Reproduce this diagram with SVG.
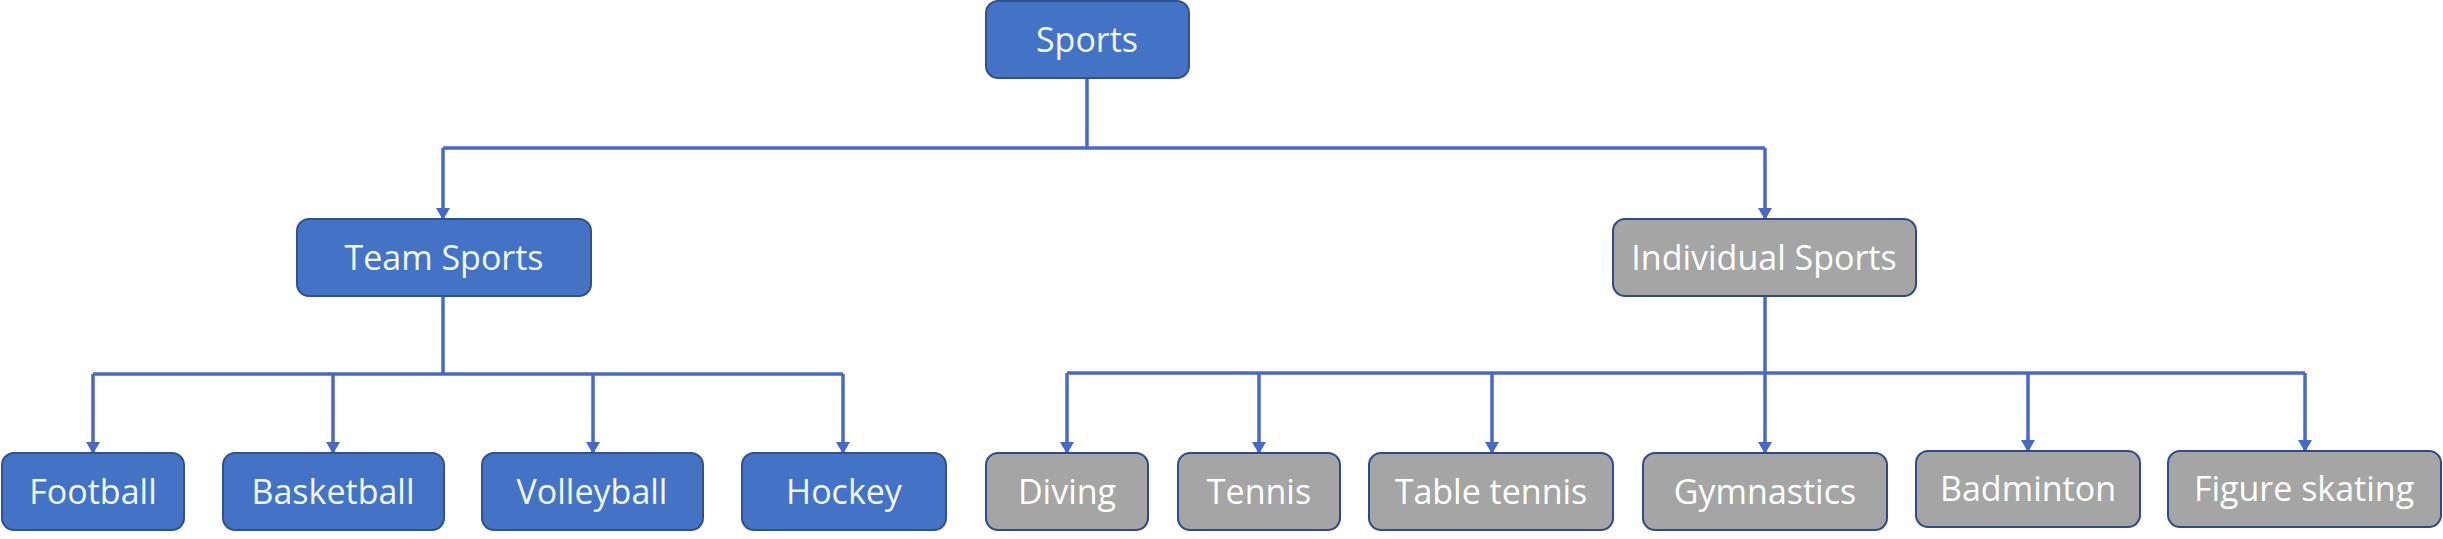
<svg xmlns="http://www.w3.org/2000/svg" width="2443" height="539" viewBox="0 0 2443 539">
<style>
.blue rect{fill:#4472c4;stroke:#2f528f;stroke-width:2}
.gray rect{fill:#a5a5a5;stroke:#2f4a8a;stroke-width:2}
text{font-family:"Open Sans","Liberation Sans",sans-serif;font-size:34px;text-anchor:middle}
.blue text{fill:#f0f8ff}
.gray text{fill:#ffffff}
.conn path{fill:none;stroke:#4868c8;stroke-width:3.5}
</style>
<defs>
<marker id="arr" markerUnits="userSpaceOnUse" markerWidth="14" markerHeight="12" refX="7" refY="11" orient="0" viewBox="0 0 14 12">
<path d="M0,0 L14,0 L7,12 Z" fill="#4868c8"/>
</marker>
</defs>
<g class="conn" id="connectors">
<path d="M1087,78 V148"/>
<path d="M443,148 H1765"/>
<path d="M443,148 V219" marker-end="url(#arr)"/>
<path d="M1765,148 V219" marker-end="url(#arr)"/>
<path d="M443,296 V374"/>
<path d="M93,374 H843"/>
<path d="M93,374 V453" marker-end="url(#arr)"/>
<path d="M333,374 V453" marker-end="url(#arr)"/>
<path d="M593,374 V453" marker-end="url(#arr)"/>
<path d="M843,374 V453" marker-end="url(#arr)"/>
<path d="M1765,296 V373"/>
<path d="M1067,373 H2305"/>
<path d="M1067,373 V453" marker-end="url(#arr)"/>
<path d="M1259,373 V453" marker-end="url(#arr)"/>
<path d="M1492,373 V453" marker-end="url(#arr)"/>
<path d="M1765,373 V453" marker-end="url(#arr)"/>
<path d="M2028,373 V451" marker-end="url(#arr)"/>
<path d="M2305,373 V451" marker-end="url(#arr)"/>
</g>
<g id="sports" class="blue"><rect x="986" y="1" width="203" height="77" rx="12"/><text x="1087" y="52">Sports</text></g>
<g id="team-sports" class="blue"><rect x="297" y="219" width="294" height="77" rx="12"/><text x="444" y="270">Team Sports</text></g>
<g id="individual-sports" class="gray"><rect x="1613" y="219" width="303" height="77" rx="12"/><text x="1764" y="270">Individual Sports</text></g>
<g id="football" class="blue"><rect x="2" y="453" width="182" height="77" rx="12"/><text x="93" y="504">Football</text></g>
<g id="basketball" class="blue"><rect x="223" y="453" width="221" height="77" rx="12"/><text x="333" y="504">Basketball</text></g>
<g id="volleyball" class="blue"><rect x="482" y="453" width="221" height="77" rx="12"/><text x="592" y="504">Volleyball</text></g>
<g id="hockey" class="blue"><rect x="742" y="453" width="204" height="77" rx="12"/><text x="844" y="504">Hockey</text></g>
<g id="diving" class="gray"><rect x="986" y="453" width="162" height="77" rx="12"/><text x="1067" y="504">Diving</text></g>
<g id="tennis" class="gray"><rect x="1178" y="453" width="162" height="77" rx="12"/><text x="1259" y="504">Tennis</text></g>
<g id="table-tennis" class="gray"><rect x="1369" y="453" width="244" height="77" rx="12"/><text x="1491" y="504">Table tennis</text></g>
<g id="gymnastics" class="gray"><rect x="1643" y="453" width="244" height="77" rx="12"/><text x="1765" y="504">Gymnastics</text></g>
<g id="badminton" class="gray"><rect x="1916" y="451" width="224" height="76" rx="12"/><text x="2028" y="501">Badminton</text></g>
<g id="figure-skating" class="gray"><rect x="2168" y="451" width="273" height="76" rx="12"/><text x="2304" y="501">Figure skating</text></g>
</svg>
